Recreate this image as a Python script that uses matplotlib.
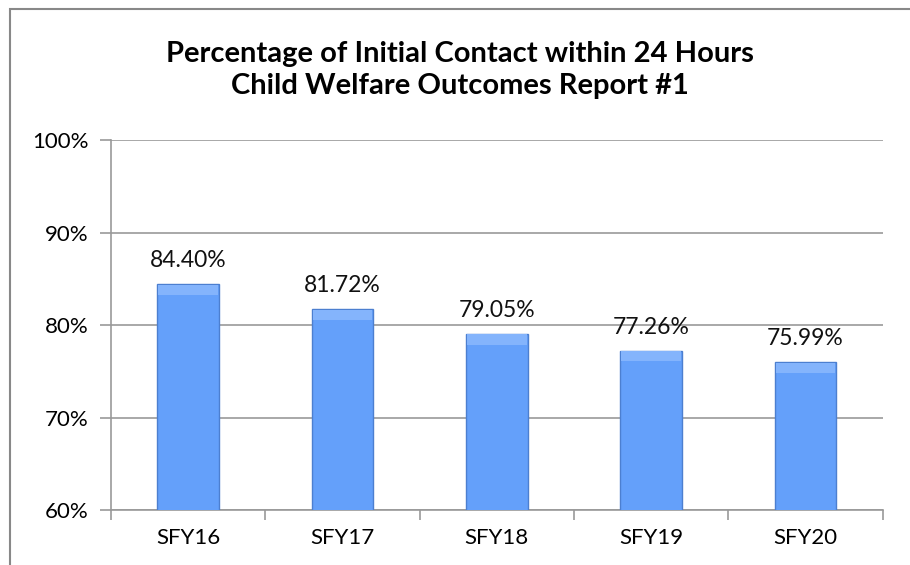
import matplotlib
matplotlib.use("Agg")
import matplotlib.pyplot as plt
from matplotlib.patches import Rectangle

# data
years = ["SFY16", "SFY17", "SFY18", "SFY19", "SFY20"]
pct = [84.40, 81.72, 79.05, 77.26, 75.99]
yticks = [60, 70, 80, 90, 100]

plt.rcParams['font.family'] = ['Lato', 'DejaVu Sans']

fig = plt.figure(figsize=(9.1, 5.65), dpi=100)
ax = fig.add_axes([0.122, 0.097, 0.848, 0.655])

x = list(range(len(years)))
ax.bar(x, pct, width=0.4, color="#64A0FA", edgecolor="#4C7FD0", linewidth=1.0, zorder=3)
# soft light bevel at the top of each bar
bevel = 1.1
ax.bar(x, [bevel] * len(pct), bottom=[v - bevel - 0.05 for v in pct], width=0.385,
       color="#84B4FC", linewidth=0, zorder=4)
for i, v in enumerate(pct):
    ax.text(i, v + 1.4, "%.2f%%" % v, ha="center", va="bottom", fontsize=16.5, color="#111111", zorder=5)

ax.set_ylim(60, 100)
ax.set_xlim(-0.5, len(years) - 0.5)
ax.set_yticks(yticks)
ax.set_yticklabels(["%d%%" % t for t in yticks], fontsize=16)
ax.set_xticks(x)
ax.set_xticklabels(years, fontsize=16)
ax.set_xticks([i - 0.5 for i in range(len(years) + 1)], minor=True)
ax.tick_params(axis="x", which="major", length=0, pad=13)
ax.tick_params(axis="x", which="minor", length=7, color="#999999", width=1.2)
ax.tick_params(axis="y", length=8, color="#999999", width=1.2, pad=8)
ax.grid(axis="y", color="#999999", linewidth=1.2, zorder=0)
for s in ["top", "right"]:
    ax.spines[s].set_visible(False)
for s in ["left", "bottom"]:
    ax.spines[s].set_color("#999999")
    ax.spines[s].set_linewidth(1.2)

fig.text(0.505, 0.876, "Percentage of Initial Contact within 24 Hours\nChild Welfare Outcomes Report #1",
         ha="center", va="center", fontsize=21, fontweight="bold", linespacing=1.3)

fig.patches.append(Rectangle((10 / 910, -0.1), 2, 1 - 9 / 565 + 0.1, transform=fig.transFigure,
                             fill=False, edgecolor="#888888", linewidth=1.5))

fig.savefig("out.png", dpi=100)
